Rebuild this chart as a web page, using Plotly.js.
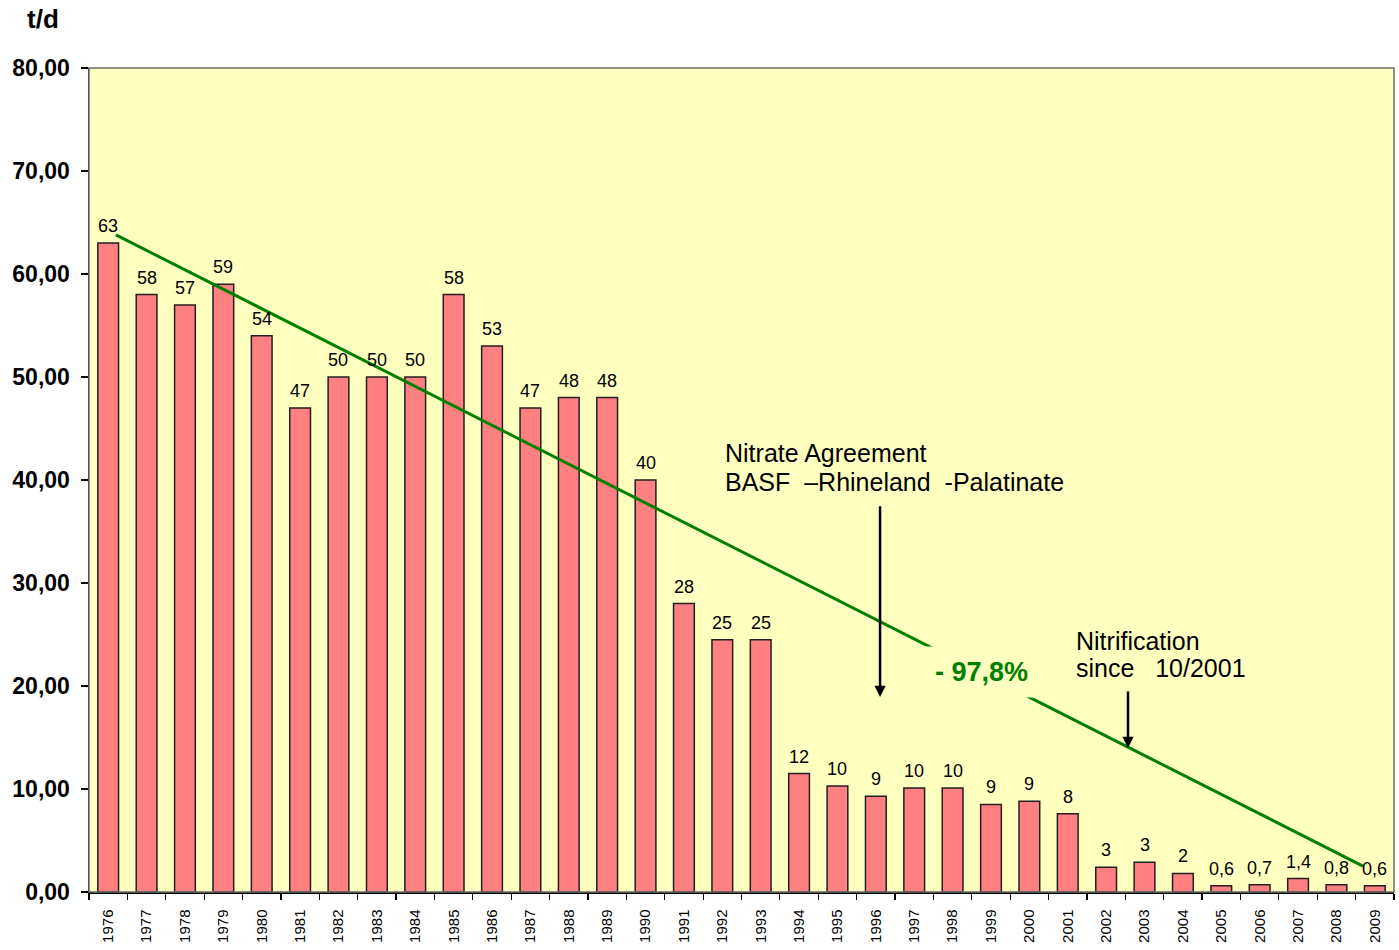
<!DOCTYPE html>
<html>
<head>
<meta charset="utf-8">
<script src="https://cdn.plot.ly/plotly-3.0.1.min.js"></script>
<style>html,body{margin:0;padding:0;background:#fff;}#chart{width:1399px;height:950px;}</style>
</head>
<body>
<div id="chart"></div>
<script>
// ---- data ----
const years = [1976,1977,1978,1979,1980,1981,1982,1983,1984,1985,1986,1987,1988,1989,1990,1991,1992,1993,1994,1995,1996,1997,1998,1999,2000,2001,2002,2003,2004,2005,2006,2007,2008,2009];
const values = [63,58,57,59,54,47,50,50,50,58,53,47,48,48,40,28,24.5,24.5,11.5,10.3,9.3,10.1,10.1,8.5,8.8,7.6,2.4,2.9,1.8,0.6,0.7,1.3,0.7,0.6];
const valueLabels = ["63","58","57","59","54","47","50","50","50","58","53","47","48","48","40","28","25","25","12","10","9","10","10","9","9","8","3","3","2","0,6","0,7","1,4","0,8","0,6"];
const trendX = [1976.2, 2008.69];
const trendY = [63.8, 2.52];
const yTicks = [0,10,20,30,40,50,60,70,80];
const reductionLabel = "- 97,8%";
const agreementLines = ["Nitrate Agreement", "BASF\u00a0\u00a0–Rhineland\u00a0\u00a0-Palatinate"];
const nitrificationLines = ["Nitrification", "since\u00a0\u00a0\u00a010/2001"];

const ARIAL = "Liberation Sans, Arial, sans-serif";

const bounds = years.map(y => y - 0.5).concat([years[years.length-1] + 0.5]);

const traces = [
  {
    type: 'bar', x: years, y: values, width: 0.54,
    marker: {color: '#FF8080', line: {color: '#231F20', width: 1.5}},
    hoverinfo: 'x+y', showlegend: false
  },
  {
    type: 'scatter', mode: 'lines', x: trendX, y: trendY,
    line: {color: '#008000', width: 3}, showlegend: false, hoverinfo: 'skip'
  }
];

const annotations = years.map((yr, i) => ({
  x: yr, y: values[i], xref: 'x', yref: 'y', text: valueLabels[i],
  showarrow: false, yanchor: 'bottom', yshift: 5,
  font: {family: ARIAL, size: 18, color: '#000'}
}));

annotations.push({
  x: 1998.74, y: 21.36, xref: 'x', yref: 'y', text: reductionLabel,
  showarrow: false, xanchor: 'center', yanchor: 'middle',
  bgcolor: '#FFFFC0', borderpad: 10,
  font: {family: ARIAL, size: 27, color: '#008000', weight: 'bold'}
});
const textFont = {family: ARIAL, size: 25, color: '#000'};
annotations.push({x: 1992.02, y: 42.6, xref: 'x', yref: 'y', text: agreementLines[0],
  showarrow: false, xanchor: 'left', yanchor: 'middle', font: textFont});
annotations.push({x: 1992.02, y: 39.8, xref: 'x', yref: 'y', text: agreementLines[1],
  showarrow: false, xanchor: 'left', yanchor: 'middle', font: textFont});
annotations.push({x: 2001.15, y: 24.35, xref: 'x', yref: 'y', text: nitrificationLines[0],
  showarrow: false, xanchor: 'left', yanchor: 'middle', font: textFont});
annotations.push({x: 2001.15, y: 21.72, xref: 'x', yref: 'y', text: nitrificationLines[1],
  showarrow: false, xanchor: 'left', yanchor: 'middle', font: textFont});
// arrows
annotations.push({
  x: 1996.11, y: 18.93, xref: 'x', yref: 'y', ax: 1996.11, ay: 37.6, axref: 'x', ayref: 'y',
  text: '', showarrow: true, arrowhead: 2, arrowsize: 0.9, arrowwidth: 2.5, arrowcolor: '#000'
});
annotations.push({
  x: 2002.57, y: 13.98, xref: 'x', yref: 'y', ax: 2002.57, ay: 19.6, axref: 'x', ayref: 'y',
  text: '', showarrow: true, arrowhead: 2, arrowsize: 0.9, arrowwidth: 2.5, arrowcolor: '#000'
});

const W = 1399, H = 950, ML = 89, MR = 5, MT = 68, MB = 58;
const pw = W - ML - MR, ph = H - MT - MB;
annotations.push({
  x: (25 - ML) / pw, y: 1 + (MT - 19) / ph, xref: 'paper', yref: 'paper',
  xanchor: 'left', yanchor: 'middle', text: 't/d', showarrow: false,
  font: {family: ARIAL, size: 26, color: '#000', weight: 'bold'}
});

const layout = {
  width: W, height: H,
  margin: {l: ML, r: MR, t: MT, b: MB, pad: 0},
  paper_bgcolor: '#FFFFFF', plot_bgcolor: '#FFFFC0',
  bargap: 0,
  font: {family: ARIAL},
  xaxis: {
    range: [years[0] - 0.5, years[years.length-1] + 0.5],
    tickvals: years, ticktext: years.map(String), tickangle: -90,
    ticks: '', showgrid: false, zeroline: false,
    showline: true, linecolor: '#000', linewidth: 1.5,
    tickfont: {family: ARIAL, size: 15, color: '#000'},
    ticklabelstandoff: 10,
    minor: {tickvals: bounds, ticks: 'outside', ticklen: 6, tickcolor: '#000', tickwidth: 1.2, showgrid: false},
    fixedrange: true
  },
  yaxis: {
    range: [0, 80], tickvals: yTicks, tickformat: '.2f',
    ticks: 'outside', ticklen: 7, tickcolor: '#000', tickwidth: 1.2,
    showgrid: false, zeroline: false,
    showline: true, linecolor: '#000', linewidth: 1.5,
    tickfont: {family: ARIAL, size: 23, color: '#000', weight: 'bold'},
    ticklabelstandoff: 6,
    fixedrange: true
  },
  separators: ',.',
  showlegend: false,
  annotations: annotations,
  shapes: [{
    type: 'rect', xref: 'paper', yref: 'paper', x0: 0, x1: 1, y0: 0, y1: 1,
    line: {color: '#6E6E6E', width: 1.5}, layer: 'above'
  }]
};

Plotly.newPlot('chart', traces, layout, {displayModeBar: false, staticPlot: true});
</script>
</body>
</html>
